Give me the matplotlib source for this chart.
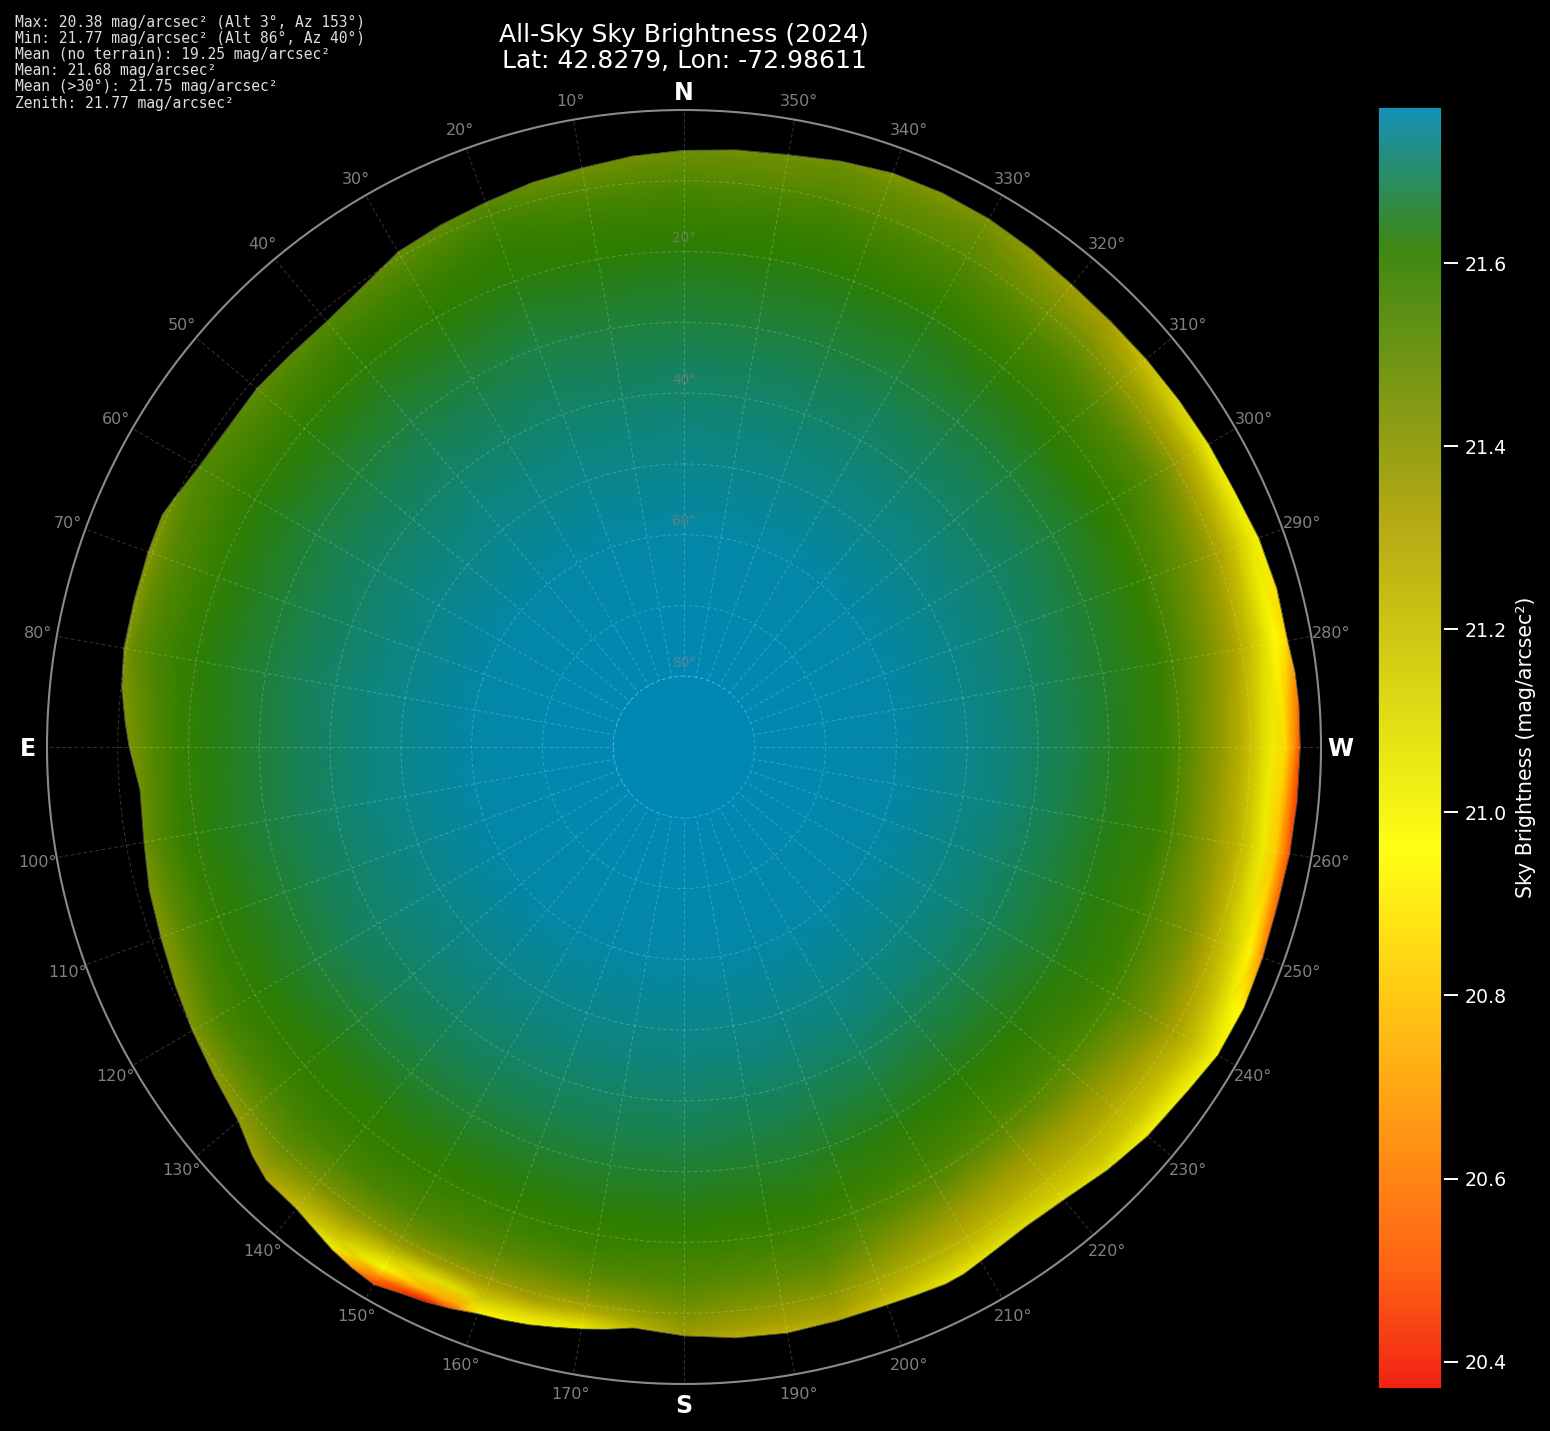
import numpy as np
import matplotlib
matplotlib.use("Agg")
import matplotlib.pyplot as plt
from matplotlib.colors import LinearSegmentedColormap, Normalize
from matplotlib.cm import ScalarMappable
from matplotlib.path import Path

# ---------- data ----------
TITLE = "All-Sky Sky Brightness (2024)\nLat: 42.8279, Lon: -72.98611"
STATS = ["Max: 20.38 mag/arcsec² (Alt 3°, Az 153°)",
         "Min: 21.77 mag/arcsec² (Alt 86°, Az 40°)",
         "Mean (no terrain): 19.25 mag/arcsec²",
         "Mean: 21.68 mag/arcsec²",
         "Mean (>30°): 21.75 mag/arcsec²",
         "Zenith: 21.77 mag/arcsec²"]
VMIN, VMAX, ZENITH = 20.37, 21.772, 21.77

# zenith distance (90 - altitude) of the table columns
zenith_dist = [10, 30, 45, 55, 62, 68, 72, 76, 79, 81, 83, 85, 86.5, 88]
az_table = [0, 20, 40, 60, 80, 100, 120, 135, 145, 150, 155, 158, 160, 165, 170, 180, 195,
            210, 225, 240, 245, 250, 260, 270, 280, 290, 300, 315, 330, 345, 360]
row_000 = [21.77,21.76,21.725,21.695,21.665,21.64,21.615,21.585,21.55,21.52,21.49,21.46,21.42,21.38]
row_020 = [21.77,21.76,21.725,21.695,21.67,21.64,21.62,21.60,21.57,21.54,21.49,21.44,21.40,21.36]
row_040 = [21.77,21.76,21.725,21.695,21.665,21.635,21.61,21.57,21.52,21.48,21.44,21.40,21.36,21.32]
row_060 = [21.77,21.76,21.72,21.69,21.66,21.63,21.60,21.56,21.53,21.48,21.43,21.39,21.35,21.31]
row_080 = [21.77,21.76,21.725,21.69,21.66,21.63,21.60,21.55,21.49,21.41,21.35,21.31,21.27,21.23]
row_100 = [21.77,21.76,21.725,21.69,21.66,21.63,21.60,21.52,21.42,21.38,21.33,21.28,21.24,21.20]
row_120 = [21.77,21.76,21.72,21.69,21.655,21.625,21.60,21.55,21.47,21.40,21.33,21.27,21.22,21.18]
row_135 = [21.77,21.76,21.72,21.685,21.65,21.62,21.60,21.56,21.51,21.46,21.40,21.33,21.25,21.15]
row_145 = [21.77,21.76,21.72,21.685,21.65,21.62,21.595,21.55,21.47,21.40,21.28,21.15,21.02,20.85]
row_150 = [21.77,21.76,21.72,21.685,21.65,21.615,21.59,21.54,21.46,21.37,21.17,20.98,20.62,20.42]
row_155 = [21.77,21.76,21.72,21.685,21.65,21.615,21.58,21.53,21.44,21.34,21.08,20.74,20.37,20.37]
row_158 = [21.77,21.76,21.72,21.685,21.65,21.615,21.58,21.52,21.43,21.33,21.10,20.72,20.50,20.40]
row_160 = [21.77,21.76,21.72,21.685,21.65,21.615,21.58,21.52,21.42,21.33,21.18,20.92,20.75,20.65]
row_165 = [21.77,21.76,21.72,21.685,21.65,21.615,21.58,21.51,21.41,21.33,21.12,20.95,20.85,20.75]
row_170 = [21.77,21.76,21.72,21.685,21.65,21.615,21.585,21.52,21.40,21.28,21.07,20.95,20.85,20.75]
row_180 = [21.77,21.76,21.72,21.685,21.65,21.615,21.58,21.53,21.47,21.42,21.36,21.28,21.20,21.10]
row_195 = [21.77,21.76,21.72,21.68,21.645,21.61,21.57,21.51,21.44,21.38,21.33,21.22,21.12,21.02]
row_210 = [21.77,21.76,21.72,21.67,21.625,21.57,21.50,21.38,21.29,21.22,21.12,21.00,20.90,20.80]
row_225 = [21.77,21.76,21.715,21.665,21.62,21.56,21.48,21.36,21.29,21.22,21.17,21.05,20.95,20.85]
row_240 = [21.77,21.76,21.715,21.67,21.63,21.59,21.53,21.45,21.36,21.30,21.22,21.12,21.03,20.95]
row_245 = [21.77,21.76,21.715,21.67,21.63,21.59,21.52,21.44,21.34,21.26,21.17,21.04,20.95,20.88]
row_250 = [21.77,21.76,21.715,21.67,21.63,21.585,21.51,21.43,21.31,21.22,21.12,20.93,20.72,20.50]
row_260 = [21.77,21.76,21.72,21.675,21.635,21.595,21.50,21.38,21.27,21.17,21.03,20.80,20.55,20.35]
row_270 = [21.77,21.76,21.72,21.68,21.64,21.595,21.49,21.38,21.26,21.15,21.03,20.85,20.60,20.37]
row_280 = [21.77,21.76,21.72,21.68,21.645,21.60,21.52,21.42,21.32,21.22,21.10,20.97,20.85,20.70]
row_290 = [21.77,21.76,21.72,21.685,21.65,21.60,21.54,21.46,21.37,21.29,21.18,21.06,21.00,20.95]
row_300 = [21.77,21.76,21.72,21.69,21.655,21.615,21.58,21.52,21.43,21.34,21.24,21.07,21.00,20.95]
row_315 = [21.77,21.76,21.725,21.69,21.66,21.625,21.59,21.54,21.48,21.43,21.38,21.33,21.28,21.22]
row_330 = [21.77,21.76,21.725,21.695,21.665,21.64,21.605,21.57,21.54,21.51,21.49,21.46,21.43,21.40]
row_345 = [21.77,21.76,21.725,21.695,21.665,21.64,21.615,21.59,21.56,21.53,21.50,21.48,21.44,21.40]
brightness = [row_000, row_020, row_040, row_060, row_080, row_100, row_120, row_135, row_145,
              row_150, row_155, row_158, row_160, row_165, row_170, row_180, row_195, row_210, row_225,
              row_240, row_245, row_250, row_260, row_270, row_280, row_290, row_300, row_315, row_330,
              row_345, row_000]

# terrain horizon, as zenith distance per azimuth
horizon_az = [0, 5, 10, 15, 20, 25, 30, 35, 40, 45, 50, 55, 60, 64, 66, 70, 75, 80, 84, 87.5, 90,
              94.5, 100, 105, 110, 115, 120, 125, 130, 133.4, 136, 140, 145, 147.5, 150, 152.5, 155,
              157.5, 160, 162.5, 165, 167.5, 170, 172.5, 175, 177.5, 180, 185, 190, 195, 200, 203,
              206, 208, 210, 212.5, 215.6, 220, 225, 230, 235.7, 240, 245, 250, 255, 260, 265, 270,
              274, 277, 280, 285, 290, 295, 300, 305, 310, 315, 320, 325, 330, 335, 340, 345, 350,
              355, 360]
horizon_zd = [84.3, 83.8, 83.1, 82.6, 81.9, 81.4, 80.8, 79.3, 78.5, 78.5, 78.8, 78.7, 79.2, 80.1,
              80.7, 80.6, 80.4, 80.4, 79.9, 79.0, 78.4, 77.1, 77.5, 78.2, 78.7, 79.4, 80.2, 81.1,
              82.2, 84.0, 85.0, 85.2, 86.7, 87.3, 87.7, 87.0, 86.5, 85.9, 85.2, 84.9, 84.5, 84.0,
              83.5, 83.0, 82.4, 82.7, 83.2, 83.8, 84.1, 83.9, 83.9, 84.1, 84.4, 84.3, 83.9, 83.5,
              83.2, 83.5, 84.6, 85.5, 86.2, 87.1, 87.3, 87.0, 86.8, 86.9, 87.0, 87.1, 87.1, 87.0,
              86.6, 86.7, 86.4, 85.8, 85.6, 85.4, 85.3, 85.2, 85.3, 85.8, 86.2, 86.4, 86.3, 85.7,
              85.0, 84.7, 84.3]

az_ticks = list(range(0, 360, 10))
compass = {0: "N", 90: "E", 180: "S", 270: "W"}
alt_ticks = [10, 20, 30, 40, 50, 60, 70, 80]
alt_labels = [20, 40, 60, 80]
cbar_ticks = [20.4, 20.6, 20.8, 21.0, 21.2, 21.4, 21.6]

# colour map nodes
cmap_vals = [20.37, 20.5, 20.7, 20.958, 21.33, 21.62, 21.772]
cmap_cols = [(240, 15, 0), (255, 85, 0), (255, 160, 0), (255, 255, 0), (170, 160, 0), (45, 125, 0), (0, 136, 180)]

# ---------- drawing ----------
W, H = 1550, 1431
fig = plt.figure(figsize=(W / 100, H / 100), dpi=100, facecolor="black")
CX, CY, RAD = 684, 747, 637
ax = fig.add_axes([(CX - RAD) / W, 1 - (CY + RAD) / H, 2 * RAD / W, 2 * RAD / H], projection="polar")
ax.set_facecolor("black")
ax.set_theta_zero_location("N")
ax.set_theta_direction(1)
ax.set_rlim(0, 90)

nodes = [(v - VMIN) / (VMAX - VMIN) for v in cmap_vals]
cmap = LinearSegmentedColormap.from_list("sky", [(n, tuple(c / 255 for c in col)) for n, col in zip(nodes, cmap_cols)], N=512)
bar_a = 0.92
cmap_bar = LinearSegmentedColormap.from_list(
    "skybar", [(n, tuple(c / 255 * bar_a + 1 - bar_a for c in col)) for n, col in zip(nodes, cmap_cols)], N=512)
norm = Normalize(VMIN, VMAX)

T, R = np.meshgrid(np.radians(az_table), zenith_dist, indexing="ij")
mesh = ax.pcolormesh(T, R, np.array(brightness), shading="gouraud", cmap=cmap, norm=norm)
hz = np.column_stack([np.radians(horizon_az), horizon_zd])
mesh.set_clip_path(Path(hz, closed=False), ax.transData)
ax.plot(np.radians(horizon_az), horizon_zd, color=(0.3, 0.3, 0.3), lw=0.6, zorder=1.2)

grid_kw = dict(color="white", alpha=0.2, lw=0.75, ls=(0, (3.5, 2.5)))
ax.set_xticks(np.radians(az_ticks))
ax.set_xticklabels([])
ax.set_yticks([90 - a for a in alt_ticks])
ax.set_yticklabels([])
ax.grid(True, **grid_kw)
ax.tick_params(length=0)
ax.spines["polar"].set_color("#8a8a8a")
ax.spines["polar"].set_linewidth(1.5)

th = np.radians(np.arange(0, 361, 2))
ax.fill_between(th, 0, 10, color=cmap(norm(ZENITH)), lw=0, zorder=3)
ax.plot(th, np.full_like(th, 10.0), zorder=4, **grid_kw)

for a in az_ticks:
    if a in compass:
        ax.annotate(compass[a], (np.radians(a), 92.75), xytext=(0, -1.5), textcoords="offset points",
                    color="white", fontsize=17, fontweight="bold", ha="center", va="center",
                    annotation_clip=False)
    else:
        ax.annotate(f"{a}°", (np.radians(a), 92.8), xytext=(0.5, -0.7), textcoords="offset points",
                    color="#808080", fontsize=11.5, ha="center", va="center", annotation_clip=False)
for a in alt_labels:
    ax.text(0, 90 - a + 1.9, f"{a}°", color=(0.5, 0.5, 0.5), alpha=0.7, fontsize=9.8,
            ha="center", va="center", zorder=5)

fig.text(CX / W, 1 - 48 / H, TITLE, color="white", fontsize=18, ha="center", va="center", linespacing=1.135)
fig.text(15 / W, 1 - 14.5 / H, "\n".join(STATS), color="#dddddd", fontsize=10.55, family="DejaVu Sans Mono",
         ha="left", va="top", linespacing=1.10)

cax = fig.add_axes([1377 / W, 1 - 1389 / H, 64.5 / W, 1283 / H])
cb = fig.colorbar(ScalarMappable(norm=norm, cmap=cmap_bar), cax=cax)
cb.set_ticks(cbar_ticks)
cb.ax.tick_params(colors="white", labelcolor="white", length=11.5, width=1.4, pad=5.5, labelsize=13.7)
for t in cb.ax.yaxis.get_ticklines():
    t.set_color("#dddddd")
cb.outline.set_edgecolor("black")
cb.outline.set_linewidth(2)
cb.set_label("Sky Brightness (mag/arcsec²)", color="white", fontsize=14.8, labelpad=6)

fig.savefig("out.png", dpi=100, facecolor="black")
